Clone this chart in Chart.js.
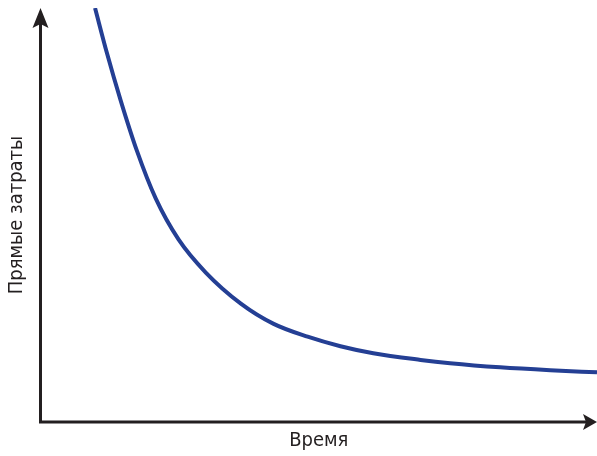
<!DOCTYPE html>
<html>
<head>
<meta charset="utf-8">
<script src="https://cdn.jsdelivr.net/npm/chart.js@4"></script>
<style>
  html, body { margin: 0; padding: 0; background: #fff; }
  #wrap { width: 597px; height: 456px; }
</style>
</head>
<body>
<div id="wrap"><canvas id="costChart"></canvas></div>
<script>
// Values (x: time, y: direct costs, both 0..100)
const timeValues = [9.8, 11.9, 14.4, 17.3, 20.7, 24.8, 29.7, 36.0, 41.9, 48.0, 53.9, 59.8, 68.3, 73.6, 82.6, 91.6, 100];
const costValues = [100, 89.3, 77.7, 65.6, 54.0, 44.1, 36.1, 28.6, 23.7, 20.6, 18.3, 16.6, 15.0, 14.2, 13.2, 12.5, 12.0];

const xTitle = 'Время';
const yTitle = 'Прямые затраты';

const axisColor = '#231f20';
const lineColor = '#243f94';
const fontFamily = '"DejaVu Sans Condensed", "DejaVu Sans", sans-serif';

// Draw axis lines with arrow heads
const arrowAxes = {
    id: 'arrowAxes',
    afterDraw(chart) {
        const ctx = chart.ctx;
        const a = chart.chartArea;
        const x0 = a.left, y0 = a.bottom;
        ctx.save();
        ctx.strokeStyle = axisColor;
        ctx.fillStyle = axisColor;
        ctx.lineWidth = 3;
        ctx.beginPath();
        ctx.moveTo(x0, a.top + 14);
        ctx.lineTo(x0, y0);
        ctx.lineTo(a.right - 10, y0);
        ctx.stroke();
        // y arrow
        ctx.beginPath();
        ctx.moveTo(x0, a.top);
        ctx.lineTo(x0 + 8, a.top + 20);
        ctx.lineTo(x0, a.top + 16);
        ctx.lineTo(x0 - 8, a.top + 20);
        ctx.closePath();
        ctx.fill();
        // x arrow
        ctx.beginPath();
        ctx.moveTo(a.right, y0);
        ctx.lineTo(a.right - 14, y0 - 8);
        ctx.lineTo(a.right - 11, y0);
        ctx.lineTo(a.right - 14, y0 + 8);
        ctx.closePath();
        ctx.fill();
        ctx.restore();
    }
};

new Chart(document.getElementById('costChart'), {
    type: 'line',
    data: {
        datasets: [{
            data: timeValues.map((x, i) => ({ x: x, y: costValues[i] })),
            borderColor: lineColor,
            borderWidth: 4,
            pointRadius: 0,
            cubicInterpolationMode: 'monotone',
            fill: false
        }]
    },
    options: {
        responsive: true,
        maintainAspectRatio: false,
        animation: false,
        layout: { padding: { left: 4.5, top: 8, right: 0, bottom: 4 } },
        plugins: { legend: { display: false }, tooltip: { enabled: false } },
        scales: {
            x: {
                type: 'linear',
                min: 0,
                max: 100,
                grid: { display: false },
                border: { display: false },
                ticks: { display: false },
                title: {
                    display: true,
                    text: xTitle,
                    color: '#231f20',
                    font: { family: fontFamily, size: 20, lineHeight: 1.1 },
                    padding: { top: 0, bottom: 0 }
                }
            },
            y: {
                min: 0,
                max: 100,
                grid: { display: false },
                border: { display: false },
                ticks: { display: false },
                title: {
                    display: true,
                    text: yTitle,
                    color: '#231f20',
                    font: { family: fontFamily, size: 20 },
                    padding: { top: 0, bottom: 4 }
                }
            }
        }
    },
    plugins: [arrowAxes]
});
</script>
</body>
</html>
